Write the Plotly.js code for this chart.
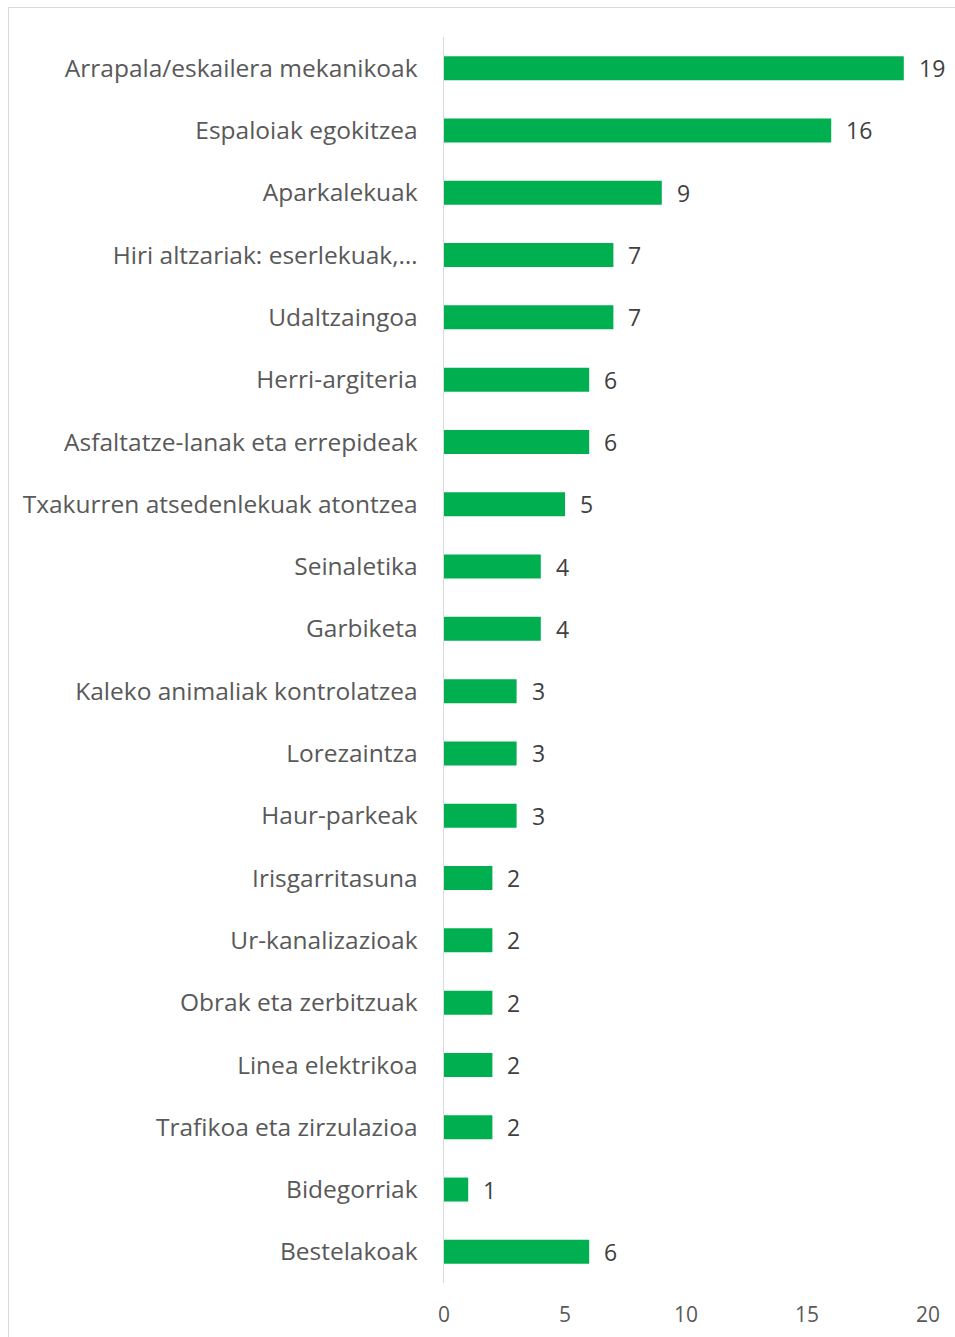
<!DOCTYPE html>
<html>
<head>
<meta charset="utf-8">
<script src="https://cdn.plot.ly/plotly-3.0.1.min.js"></script>
<style>
  html, body { margin: 0; padding: 0; background: #ffffff; }
  #frame { position: absolute; left: 8px; top: 7px; width: 1100px; height: 1500px; border: 1px solid #d9d9d9; box-sizing: border-box; }
  #chart { position: absolute; left: 0; top: 0; width: 955px; height: 1337px; }
</style>
</head>
<body>
<div id="frame"></div>
<div id="chart"></div>
<script>
const categories = [
  "Arrapala/eskailera mekanikoak",
  "Espaloiak egokitzea",
  "Aparkalekuak",
  "Hiri altzariak: eserlekuak,…",
  "Udaltzaingoa",
  "Herri-argiteria",
  "Asfaltatze-lanak eta errepideak",
  "Txakurren atsedenlekuak atontzea",
  "Seinaletika",
  "Garbiketa",
  "Kaleko animaliak kontrolatzea",
  "Lorezaintza",
  "Haur-parkeak",
  "Irisgarritasuna",
  "Ur-kanalizazioak",
  "Obrak eta zerbitzuak",
  "Linea elektrikoa",
  "Trafikoa eta zirzulazioa",
  "Bidegorriak",
  "Bestelakoak"
];
const values = [19, 16, 9, 7, 7, 6, 6, 5, 4, 4, 3, 3, 3, 2, 2, 2, 2, 2, 1, 6];
const xTicks = [0, 5, 10, 15, 20];

const FONT = "'Open Sans', sans-serif";

const trace = {
  type: 'bar',
  orientation: 'h',
  y: categories,
  x: values,
  marker: { color: '#00B050' },
  width: 0.385,
  hoverinfo: 'none'
};

const annotations = categories.map((c, i) => ({
  x: values[i], y: c, xref: 'x', yref: 'y',
  text: String(values[i]),
  showarrow: false, xanchor: 'left', yanchor: 'middle',
  xshift: 13,
  font: { family: FONT, size: 23, color: '#404040' }
}));

const layout = {
  width: 955, height: 1337,
  margin: { l: 444, r: 27, t: 37, b: 54 },
  paper_bgcolor: 'rgba(0,0,0,0)',
  plot_bgcolor: 'rgba(0,0,0,0)',
  showlegend: false,
  bargap: 0.6,
  xaxis: {
    range: [0, 20],
    tickvals: xTicks,
    ticktext: xTicks.map(String),
    showgrid: false, zeroline: false, showline: false,
    ticks: 'outside', ticklen: 13, tickcolor: 'rgba(0,0,0,0)',
    tickfont: { family: FONT, size: 21, color: '#595959' },
    fixedrange: true
  },
  yaxis: {
    autorange: 'reversed',
    showgrid: false, zeroline: false,
    showline: true, linecolor: '#d9d9d9', linewidth: 1.5,
    ticks: 'outside', ticklen: 20, tickcolor: 'rgba(0,0,0,0)',
    tickfont: { family: FONT, size: 24.5, color: '#595959' },
    fixedrange: true
  },
  annotations: annotations
};

Plotly.newPlot('chart', [trace], layout, { displayModeBar: false, staticPlot: true });
</script>
</body>
</html>
